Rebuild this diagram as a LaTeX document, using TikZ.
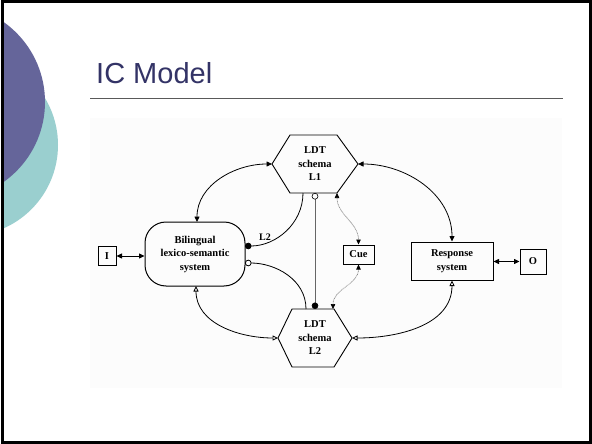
\documentclass[tikz,border=0pt]{standalone}
\usepackage{fontspec}
\setmainfont{Liberation Serif}
\newfontfamily\titlefont{Liberation Sans}
\usetikzlibrary{arrows.meta}
\definecolor{slidepurple}{HTML}{65659A}
\definecolor{slideteal}{HTML}{9ACFCF}
\definecolor{titleblue}{HTML}{333366}
\tikzset{
  box/.style={draw, line width=1pt, align=center, inner sep=1pt,
    font=\fontsize{10.5}{13.5}\selectfont\bfseries},
  hextext/.style={align=center, inner sep=0pt,
    font=\fontsize{10.5}{13.5}\selectfont\bfseries},
  hexline/.style={draw, line width=0.9pt, line join=miter},
  conn/.style={line width=0.8pt},
  dbl/.style={conn, {Triangle[length=5.5pt,width=5pt]}-{Triangle[length=5.5pt,width=5pt]}},
  dblopen/.style={conn, {Triangle[open,length=5.5pt,width=5pt]}-{Triangle[open,length=5.5pt,width=5pt]}},
  cueline/.style={draw=gray, line width=0.6pt, dash pattern=on 1pt off 0.6pt,
    {Triangle[length=5pt,width=4.5pt,color=black]}-{Triangle[length=5pt,width=4.5pt,color=black]}},
}
\begin{document}
\begin{tikzpicture}[x=1pt,y=-1pt]
\useasboundingbox (0,0) rectangle (592,444);
\fill[white] (0,0) rectangle (592,444);
% decorative circles
\begin{scope}
  \clip (3,3) rectangle (589,441);
  \fill[slideteal] (-33,145) circle (91);
  \fill[slidepurple] (-53,102) circle (98);
\end{scope}
\draw[line width=3pt] (2,2) rectangle (590,442);
\draw[line width=1.5pt] (591,2) -- (591,443);
% title
\node[anchor=base west, inner sep=0pt, text=titleblue,
  font=\titlefont\fontsize{29}{30}\selectfont] (title) at (96,84) {IC Model};
\draw[line width=1.4pt, draw=black!65] (90,98.5) -- (563,98.5);
% diagram background
\fill[black!1] (90,118) rectangle (562,388);
% hexagons
\node[hextext] (L1) at (315,164) {LDT\\schema\\L1};
\node[hextext] (L2) at (315,338) {LDT\\schema\\L2};
\draw[hexline] (290,135) -- (337,135) -- (358,164) -- (337,193) -- (290,193) -- (272,164) -- cycle;
\draw[hexline] (292,309) -- (334,309) -- (352,338) -- (334,367) -- (292,367) -- (278,338) -- cycle;
\coordinate (L1w) at (272,164);
\coordinate (L1e) at (358,164);
\coordinate (L1b1) at (303,193);
\coordinate (L1bc) at (315,193);
\coordinate (L1br) at (337,193);
\coordinate (L2w) at (278,338);
\coordinate (L2e) at (352,338);
\coordinate (L2t1) at (306,309);
\coordinate (L2tc) at (315,309);
\coordinate (L2tr) at (333,309);
% boxes
\node[box, minimum width=100pt, minimum height=64pt, rounded corners=21pt] (Bil) at (195,254)
  {Bilingual\\lexico-semantic\\system};
\node[box, minimum width=18pt, minimum height=19pt] (Ibox) at (107,256) {I};
\node[box, minimum width=31pt, minimum height=19pt] (Cue) at (358.5,254.5) {Cue};
\node[box, minimum width=82pt, minimum height=38pt] (Resp) at (452,261) {Response\\system};
\node[box, minimum width=26pt, minimum height=25pt] (Obox) at (533,261.5) {O};
\coordinate (Bilt) at (197,222);
\coordinate (Bilb) at (196,286);
\coordinate (Bilr1) at (245,246);
\coordinate (Bilr2) at (245,263);
% connectors
\draw[dbl] (Bilt) to[out=90,in=180] (L1w);
\draw[dbl] (L1e) to[out=0,in=90] (Resp.north);
\draw[dblopen] (Bilb) to[out=-90,in=180] (L2w);
\draw[dblopen] (Resp.south) to[out=-90,in=0] (L2e);
\draw[conn, -{Circle[length=6.5pt]}] (L1b1) to[out=-90,in=0] (Bilr1);
\draw[conn, -{Circle[open,length=6.5pt]}] (L2t1) to[out=90,in=0] (Bilr2);
\draw[line width=0.6pt, draw=black!60, {Circle[open,length=6.5pt,color=black]}-{Circle[length=6.5pt,color=black]}] (L1bc) -- (L2tc);
\draw[cueline] (L1br) to[out=-90,in=90] (Cue.north);
\draw[cueline] (Cue.south) to[out=-90,in=90] (L2tr);
\draw[dbl] (Ibox.east) -- (Bil.west |- Ibox.east);
\draw[dbl] (Resp.east |- Obox.west) -- (Obox.west);
\node[font=\fontsize{10}{12}\selectfont\bfseries, inner sep=0pt] (lbl) at (265,237) {L2};
\end{tikzpicture}
\end{document}
